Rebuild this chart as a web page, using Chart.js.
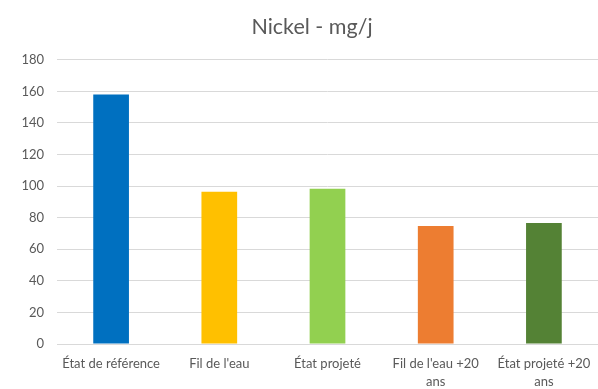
<!DOCTYPE html>
<html>
<head>
<meta charset="utf-8">
<script src="https://cdn.jsdelivr.net/npm/chart.js@4/dist/chart.umd.min.js"></script>
<style>
  html, body { margin: 0; padding: 0; background: #ffffff; }
  #wrap { width: 598px; height: 389px; position: relative; }
</style>
</head>
<body>
<div id="wrap"><canvas id="chart"></canvas></div>
<script>
// Scenario labels (two-line where the text wraps)
const categories = [
  "État de référence",
  "Fil de l'eau",
  "État projeté",
  ["Fil de l'eau +20", "ans"],
  ["État projeté +20", "ans"]
];
// Nickel flux, mg/j
const nickelValues = [158, 96.5, 98.3, 74.8, 76.6];
const barColors = ["#0070c0", "#ffc000", "#92d050", "#ed7d31", "#548235"];
const yTicks = [0, 20, 40, 60, 80, 100, 120, 140, 160, 180];

const textColor = "#595959";
const gridColor = "#d9d9d9";
const fontFamily = "Lato, 'Open Sans', sans-serif";

// Centre the title a little right of the canvas middle
const titleShift = {
  id: "titleShift",
  afterLayout(chart) {
    if (chart.titleBlock) {
      chart.titleBlock.left = 26;
    }
  }
};

new Chart(document.getElementById("chart"), {
  type: "bar",
  data: {
    labels: categories,
    datasets: [{
      data: nickelValues,
      backgroundColor: barColors,
      borderWidth: 0,
      categoryPercentage: 0.33,
      barPercentage: 1.0
    }]
  },
  plugins: [titleShift],
  options: {
    responsive: true,
    maintainAspectRatio: false,
    animation: false,
    layout: { padding: { top: 14.5, right: 0, bottom: 0, left: 0 } },
    plugins: {
      legend: { display: false },
      tooltip: { enabled: false },
      title: {
        display: true,
        text: "Nickel - mg/j",
        color: textColor,
        font: { family: fontFamily, size: 21.5, weight: "normal" },
        padding: { top: 0, bottom: 19.5 }
      }
    },
    scales: {
      x: {
        // let the plot run to the right edge; the labels fit inside their categories
        afterFit: (scale) => {
          scale.height = 45;
          scale.paddingLeft = 0;
          scale.paddingRight = 0;
        },
        grid: { display: false, drawTicks: false },
        border: { display: true, color: gridColor, width: 1 },
        ticks: {
          color: textColor,
          font: { family: fontFamily, size: 13, lineHeight: 1.4 },
          padding: 11,
          maxRotation: 0,
          autoSkip: false
        }
      },
      y: {
        min: 0,
        max: yTicks[yTicks.length - 1],
        afterFit: (scale) => { scale.width = 57; },
        afterBuildTicks: (scale) => { scale.ticks = yTicks.map(v => ({ value: v })); },
        grid: { color: gridColor, lineWidth: 1, drawTicks: false },
        border: { display: false },
        ticks: {
          color: textColor,
          font: { family: fontFamily, size: 13 },
          padding: 13
        }
      }
    }
  }
});
</script>
</body>
</html>
